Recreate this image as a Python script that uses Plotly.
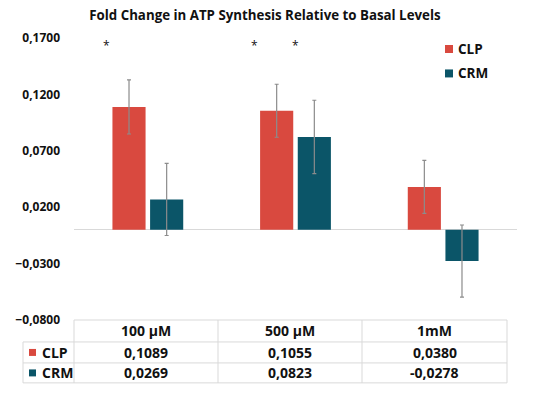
import plotly.graph_objects as go

# ---- data ----
categories = ["100 µM", "500 µM", "1mM"]
series_names = ["CLP", "CRM"]
clp_values = [0.1089, 0.1055, 0.0380]
crm_values = [0.0269, 0.0823, -0.0278]
clp_errors = [0.024, 0.0235, 0.0235]
crm_errors = [0.032, 0.0325, 0.032]
clp_significant = [True, True, False]
crm_significant = [False, True, False]
y_ticks = [-0.08, -0.03, 0.02, 0.07, 0.12, 0.17]
title_text = "Fold Change in ATP Synthesis Relative to Basal Levels"

# ---- style ----
W, H = 533, 398
ML, MR, MT, MB = 74, 16, 37.5, 78
FONT = "Open Sans"
CLP_COLOR = "#D9493F"
CRM_COLOR = "#0B5568"
GRID = "#D9D9D9"
TXT = "#111111"

plot_w = W - ML - MR
plot_h = H - MT - MB


def px_x(p):
    return (p - ML) / plot_w


def px_y(p):
    return (H - MB - p) / plot_h


fig = go.Figure()
for name, vals, errs, col in [
    ("CLP", clp_values, clp_errors, CLP_COLOR),
    ("CRM", crm_values, crm_errors, CRM_COLOR),
]:
    fig.add_trace(go.Bar(
        name=name, x=categories, y=vals, marker_color=col,
        marker_line_width=0,
        error_y=dict(type="data", array=errs, visible=True,
                     color="#8C8C8C", thickness=1.2, width=2),
        showlegend=False, hoverinfo="skip",
    ))

shapes = []
annotations = []

# significance asterisks
for cat, s in zip(categories, clp_significant):
    if s:
        annotations.append(dict(x=cat, y=0.163, xref="x", yref="y", text="*",
                                showarrow=False, xshift=-41,
                                xanchor="center", yanchor="middle",
                                font=dict(family=FONT, size=12, color=TXT)))
for cat, s in zip(categories, crm_significant):
    if s:
        annotations.append(dict(x=cat, y=0.163, xref="x", yref="y", text="*",
                                showarrow=False, xshift=0,
                                xanchor="center", yanchor="middle",
                                font=dict(family=FONT, size=12, color=TXT)))

# custom legend
colors = [CLP_COLOR, CRM_COLOR]
for i, (nm, col) in enumerate(zip(series_names, colors)):
    cy = 48.5 + i * 24.5
    shapes.append(dict(type="rect", xref="paper", yref="paper",
                       x0=px_x(445), x1=px_x(453), y0=px_y(cy - 4), y1=px_y(cy + 4),
                       fillcolor=col, line_width=0))
    annotations.append(dict(x=px_x(456), y=px_y(cy), xref="paper", yref="paper",
                            text="<b>%s</b>" % nm, showarrow=False,
                            xanchor="left", yanchor="middle",
                            font=dict(family=FONT, size=13.5, color=TXT)))

# data table below the plot
col_edges = [23, 74, 218, 362, 507]
row_edges = [320, 342, 363, 383]
lc = dict(color=GRID, width=1)
shapes.append(dict(type="line", xref="paper", yref="paper", x0=px_x(74), x1=px_x(507),
                   y0=px_y(row_edges[0]), y1=px_y(row_edges[0]), line=lc))
for r in row_edges[1:]:
    shapes.append(dict(type="line", xref="paper", yref="paper", x0=px_x(23), x1=px_x(507),
                       y0=px_y(r), y1=px_y(r), line=lc))
shapes.append(dict(type="line", xref="paper", yref="paper", x0=px_x(23), x1=px_x(23),
                   y0=px_y(row_edges[1]), y1=px_y(row_edges[3]), line=lc))
for c in col_edges[1:]:
    shapes.append(dict(type="line", xref="paper", yref="paper", x0=px_x(c), x1=px_x(c),
                       y0=px_y(row_edges[0]), y1=px_y(row_edges[3]), line=lc))

tfont = dict(family=FONT, size=14, color=TXT)
for j, cat in enumerate(categories):
    cx = (col_edges[j + 1] + col_edges[j + 2]) / 2
    annotations.append(dict(x=px_x(cx), y=px_y((row_edges[0] + row_edges[1]) / 2),
                            xref="paper", yref="paper", text="<b>%s</b>" % cat,
                            xanchor="center", yanchor="middle",
                            showarrow=False, font=tfont))
for i, (nm, vals, col) in enumerate(zip(series_names, [clp_values, crm_values], colors)):
    cy = (row_edges[i + 1] + row_edges[i + 2]) / 2
    shapes.append(dict(type="rect", xref="paper", yref="paper",
                       x0=px_x(29), x1=px_x(36), y0=px_y(cy - 3.5), y1=px_y(cy + 3.5),
                       fillcolor=col, line_width=0))
    annotations.append(dict(x=px_x(40), y=px_y(cy), xref="paper", yref="paper",
                            text="<b>%s</b>" % nm, showarrow=False,
                            xanchor="left", yanchor="middle", font=tfont))
    for j, v in enumerate(vals):
        cx = (col_edges[j + 1] + col_edges[j + 2]) / 2
        annotations.append(dict(x=px_x(cx), y=px_y(cy), xref="paper", yref="paper",
                                text="<b>%s</b>" % f"{v:.4f}".replace(".", ","),
                                xanchor="center", yanchor="middle",
                                showarrow=False, font=tfont))

fig.update_layout(
    width=W, height=H,
    margin=dict(l=ML, r=MR, t=MT, b=MB, pad=0),
    paper_bgcolor="white", plot_bgcolor="white",
    separators=",.",
    barmode="group", bargap=0.49, bargroupgap=0.12,
    title=dict(text="<b>%s</b>" % title_text, x=0.497, xanchor="center",
               y=1 - 15 / H, yanchor="middle",
               font=dict(family=FONT, size=13.3, color=TXT)),
    xaxis=dict(showticklabels=False, showgrid=False, showline=False, ticks="",
               range=[-0.5, 2.5]),
    yaxis=dict(range=[-0.08, 0.17], tickvals=y_ticks, tickformat=".4f",
               showgrid=False, showline=False, zeroline=True,
               zerolinecolor=GRID, zerolinewidth=1, ticks="",
               ticklabelstandoff=13,
               tickfont=dict(family=FONT, size=12, color=TXT, weight="bold")),
    shapes=shapes, annotations=annotations,
    font=dict(family=FONT, color=TXT),
    hovermode=False,
)

fig.write_html("out.html", post_script="document.body.style.margin='0';",
               config={"displayModeBar": False})
